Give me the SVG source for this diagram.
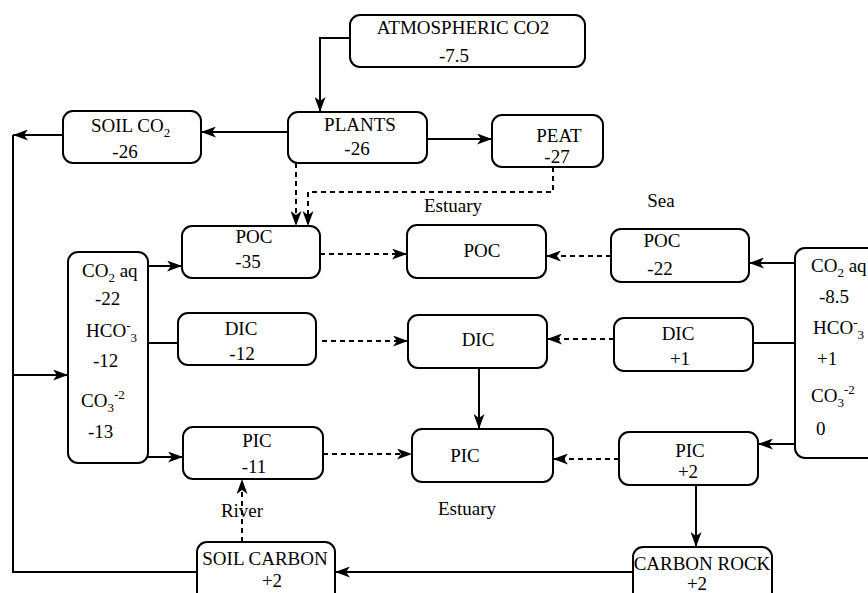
<svg xmlns="http://www.w3.org/2000/svg" width="868" height="593" viewBox="0 0 868 593">
<defs>
<marker id="ah" markerUnits="userSpaceOnUse" markerWidth="15" markerHeight="11" refX="15" refY="5.5" orient="auto">
<path d="M0,0 L15,5.5 L0,11 L4,5.5 z" fill="#000"/>
</marker>
<style>
rect{fill:#fff;stroke:#000;stroke-width:2}
text{font-family:'Liberation Serif','Tinos','DejaVu Serif','Noto Serif',serif;font-size:19px;fill:#000}
.m{text-anchor:middle}
.sub{font-size:13px}
.c{fill:none;stroke:#000;stroke-width:2}
.d{stroke-dasharray:5 4}
.a{marker-end:url(#ah)}
</style>
</defs>
<rect x="0" y="0" width="868" height="593" style="fill:#fff;stroke:none"/>
<g id="connectors">
<path class="c a" d="M350,38 H320 V112"/>
<path class="c a" d="M427,139 H492"/>
<path class="c a" d="M288,132 H201"/>
<path class="c a" d="M63,135 H13"/>
<path class="c" d="M13,135 V572 H197"/>
<path class="c a" d="M13,375 H68"/>
<path class="c d a" d="M296,163 V226"/>
<path class="c d a" d="M553,167 V192 H308 V226"/>
<path class="c a" d="M148,266 H182"/>
<path class="c" d="M148,343 H178"/>
<path class="c a" d="M148,457 H183"/>
<path class="c d a" d="M320,254 H407"/>
<path class="c d a" d="M322,341 H408"/>
<path class="c d a" d="M323,454 H412"/>
<path class="c d a" d="M242,542 V479"/>
<path class="c d a" d="M611,256 H546"/>
<path class="c d a" d="M614,339 H547"/>
<path class="c d a" d="M619,459 H553"/>
<path class="c a" d="M479,368 V429"/>
<path class="c a" d="M795,263 H749"/>
<path class="c" d="M795,343 H753"/>
<path class="c a" d="M795,444 H758"/>
<path class="c a" d="M696,485 V547"/>
<path class="c a" d="M633,572 H335"/>
</g>
<g id="atm"><rect x="350" y="15" width="235" height="52" rx="10"/><text class="m" x="463" y="34">ATMOSPHERIC CO2</text><text class="m" x="454" y="62">-7.5</text></g>
<g id="plants"><rect x="288" y="112" width="139" height="51" rx="10"/><text class="m" x="360" y="131">PLANTS</text><text class="m" x="357" y="155">-26</text></g>
<g id="peat"><rect x="492" y="115" width="111" height="52" rx="10"/><text class="m" x="559" y="142">PEAT</text><text class="m" x="557" y="163">-27</text></g>
<g id="soilco2"><rect x="63" y="111" width="138" height="52" rx="10"/><text x="91" y="132">SOIL CO<tspan class="sub" dy="5">2</tspan></text><text class="m" x="125" y="158">-26</text></g>
<g id="riverPOC"><rect x="182" y="226" width="138" height="52" rx="10"/><text class="m" x="254" y="243">POC</text><text class="m" x="248" y="268">-35</text></g>
<g id="leftCO2"><rect x="68" y="252" width="80" height="211" rx="10"/>
<text x="82" y="277">CO<tspan class="sub" dy="5">2</tspan><tspan dy="-5"> aq</tspan></text>
<text x="95" y="305">-22</text>
<text x="86" y="337">HCO<tspan class="sub" dy="-7">-</tspan><tspan class="sub" dy="12">3</tspan></text>
<text x="93" y="367">-12</text>
<text x="81" y="407">CO<tspan class="sub" dy="5">3</tspan><tspan class="sub" dy="-13">-2</tspan></text>
<text x="88" y="438">-13</text>
</g>
<g id="riverDIC"><rect x="178" y="313" width="138" height="52" rx="10"/><text class="m" x="241" y="335">DIC</text><text class="m" x="242" y="360">-12</text></g>
<g id="riverPIC"><rect x="183" y="427" width="140" height="52" rx="10"/><text class="m" x="257" y="447">PIC</text><text class="m" x="254" y="473">-11</text></g>
<g id="soilCarbon"><rect x="197" y="542" width="138" height="62" rx="10"/><text class="m" x="265" y="565">SOIL CARBON</text><text class="m" x="272" y="587">+2</text></g>
<g id="estPOC"><rect x="407" y="225" width="139" height="53" rx="10"/><text class="m" x="482" y="257">POC</text></g>
<g id="estDIC"><rect x="408" y="315" width="139" height="53" rx="10"/><text class="m" x="478" y="346">DIC</text></g>
<g id="estPIC"><rect x="412" y="429" width="141" height="53" rx="10"/><text class="m" x="465" y="462">PIC</text></g>
<g id="seaPOC"><rect x="611" y="229" width="138" height="53" rx="10"/><text class="m" x="662" y="247">POC</text><text class="m" x="660" y="275">-22</text></g>
<g id="seaDIC"><rect x="614" y="318" width="139" height="53" rx="10"/><text class="m" x="678" y="340">DIC</text><text class="m" x="680" y="365">+1</text></g>
<g id="seaPIC"><rect x="619" y="432" width="139" height="53" rx="10"/><text class="m" x="690" y="457">PIC</text><text class="m" x="688" y="478">+2</text></g>
<g id="carbonRock"><rect x="633" y="547" width="139" height="62" rx="10"/><text class="m" x="702" y="570">CARBON ROCK</text><text class="m" x="697" y="590">+2</text></g>
<g id="rightCO2"><rect x="795" y="248" width="90" height="210" rx="10"/>
<text x="811" y="272">CO<tspan class="sub" dy="5">2</tspan><tspan dy="-5"> aq</tspan></text>
<text x="819" y="303">-8.5</text>
<text x="813" y="334">HCO<tspan class="sub" dy="-7">-</tspan><tspan class="sub" dy="12">3</tspan></text>
<text x="817" y="365">+1</text>
<text x="811" y="402">CO<tspan class="sub" dy="5">3</tspan><tspan class="sub" dy="-13">-2</tspan></text>
<text x="816" y="435">0</text>
</g>
<g id="labels">
<text class="m" x="453" y="212">Estuary</text>
<text class="m" x="661" y="207">Sea</text>
<text class="m" x="242" y="517">River</text>
<text class="m" x="467" y="515">Estuary</text>
</g>
</svg>
